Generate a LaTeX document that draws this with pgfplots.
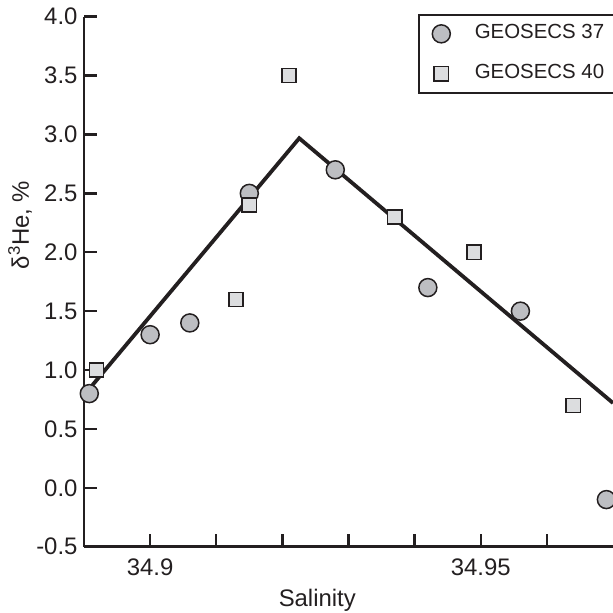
\documentclass[border=0pt]{standalone}
\usepackage{pgfplots}
\pgfplotsset{compat=1.18}
\usepackage{fontspec}
\setmainfont{Liberation Sans}
\definecolor{ink}{HTML}{231F20}
\definecolor{circfill}{HTML}{BDBEC2}
\definecolor{sqfill}{HTML}{DCDDDF}
\newcommand{\legfont}{\fontsize{20.5}{24}\selectfont}

\begin{document}
\begin{tikzpicture}[x=1bp,y=1bp]
\begin{axis}[
  name=ax,
  at={(84bp,66.3bp)}, anchor=south west,
  scale only axis, width=529bp, height=530bp,
  xmin=34.89, xmax=34.97, ymin=-0.5, ymax=4.0,
  axis x line*=bottom, axis y line*=left,
  axis line style={ink, line width=2.6bp, -},
  every tick/.style={ink, line width=2.4bp},
  tick align=inside,
  major tick length=12.7bp, minor tick length=12.7bp,
  xtick={34.9,34.95}, xticklabels={34.9,34.95},
  minor xtick={34.91,34.92,34.93,34.94,34.96},
  ytick={-0.5,0,0.5,1,1.5,2,2.5,3,3.5,4},
  yticklabel style={/pgf/number format/fixed, /pgf/number format/fixed zerofill, /pgf/number format/precision=1, xshift=-3bp},
  /pgf/number format/assume math mode=true,
  ticklabel style={font=\fontsize{24}{28}\selectfont, text=ink},
  xticklabel style={yshift=-9bp},
  xlabel={Salinity},
  ylabel={δ\textsuperscript{3}He, \%},
  label style={font=\fontsize{24}{28}\selectfont, text=ink},
  xlabel style={at={(axis description cs:0.441,-0.1006)}, anchor=center},
  ylabel style={at={(axis description cs:-0.121,0.607)}, anchor=center},
  legend style={
    at={(axis description cs:0.6314,1.005)}, anchor=north west,
    draw=ink, line width=1.6bp, fill=white,
    font=\legfont, text=ink,
    inner xsep=13.5bp, inner ysep=9bp,
    row sep=20bp, column sep=24.5bp,
    nodes={inner sep=0bp, text height=15bp, text depth=5bp, font=\legfont},
    cells={anchor=west},
  },
  legend cell align=left,
]
% fitted trend: rise to a maximum, then fall
\addplot[ink, line width=3.8bp, forget plot] coordinates {
  (34.8905,0.82) (34.92255,2.968) (34.97,0.72)
};
% GEOSECS station 37
\addplot[only marks, mark=*, mark size=9bp,
  mark options={draw=ink, fill=circfill, line width=1.5bp}] coordinates {
  (34.8908,0.8) (34.9,1.3) (34.906,1.4) (34.915,2.5)
  (34.928,2.7) (34.942,1.7) (34.956,1.5) (34.969,-0.1)
};
\addlegendentry{\legfont GEOSECS 37\hspace*{30bp}\null}
% GEOSECS station 40
\addplot[only marks, mark=square*, mark size=7.1bp,
  mark options={draw=ink, fill=sqfill, line width=1.5bp}] coordinates {
  (34.8919,1.0) (34.913,1.6) (34.915,2.4) (34.921,3.5)
  (34.937,2.3) (34.949,2.0) (34.964,0.7)
};
\addlegendentry{\legfont GEOSECS 40\hspace*{30bp}\null}
\end{axis}
\pgfresetboundingbox
\path[use as bounding box] (0,0) rectangle (613bp,613bp);
\end{tikzpicture}
\end{document}
